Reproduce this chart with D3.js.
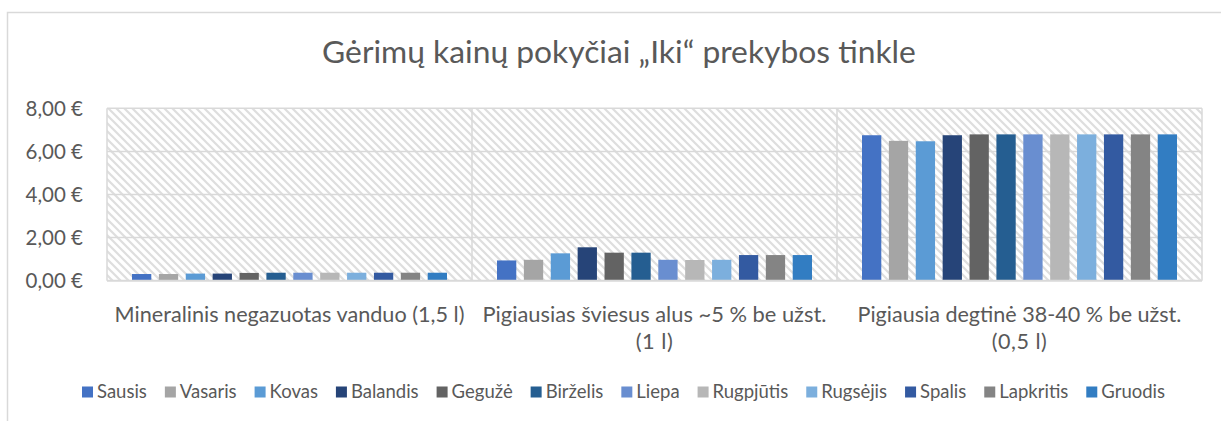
<!DOCTYPE html>
<html>
<head>
<meta charset="utf-8">
<script src="https://cdn.jsdelivr.net/npm/d3@7"></script>
<style>
  html, body { margin: 0; padding: 0; background: #fff; }
  svg { display: block; }
  text { font-family: Lato, "Open Sans", sans-serif; fill: #595959; }
</style>
</head>
<body>
<svg id="chart" width="1221" height="421"></svg>
<script>
// ---- data ----
const title = "Gėrimų kainų pokyčiai „Iki“ prekybos tinkle";
const categories = [
  ["Mineralinis negazuotas vanduo (1,5 l)"],
  ["Pigiausias šviesus alus ~5 % be užst.", "(1 l)"],
  ["Pigiausia degtinė 38-40 % be užst.", "(0,5 l)"]
];
const months = ["Sausis","Vasaris","Kovas","Balandis","Gegužė","Birželis","Liepa","Rugpjūtis","Rugsėjis","Spalis","Lapkritis","Gruodis"];
const waterPrices = [0.31, 0.31, 0.33, 0.33, 0.36, 0.37, 0.37, 0.37, 0.37, 0.37, 0.37, 0.37];
const beerPrices  = [0.94, 0.97, 1.27, 1.55, 1.30, 1.30, 0.97, 0.96, 0.97, 1.19, 1.19, 1.19];
const vodkaPrices = [6.75, 6.49, 6.47, 6.75, 6.79, 6.79, 6.79, 6.79, 6.79, 6.79, 6.79, 6.79];
const yTicks = [0, 2, 4, 6, 8];
const colors = ["#4472C4","#A5A5A5","#5B9BD5","#264478","#636363","#255E91","#698ED0","#B7B7B7","#7CAFDD","#335AA1","#848484","#327DC2"];

const seriesByCategory = [waterPrices, beerPrices, vodkaPrices];

// ---- layout ----
const svg = d3.select("#chart");
const plot = { left: 107, right: 1202, top: 108.3, bottom: 280.7 };
const grid = "#d9d9d9";

function fitText(sel, target) {
  const node = sel.node();
  const fs = parseFloat(sel.attr("font-size"));
  const w = node.getComputedTextLength();
  sel.attr("font-size", (fs * target / w).toFixed(2));
}

// chart border
svg.append("rect").attr("x", 7.5).attr("y", 12.5).attr("width", 1300).attr("height", 500)
  .attr("fill", "#fff").attr("stroke", grid).attr("stroke-width", 1.5);

// hatch pattern
const defs = svg.append("defs");
const pat = defs.append("pattern").attr("id", "hatch").attr("patternUnits", "userSpaceOnUse")
  .attr("width", 8).attr("height", 8);
pat.append("rect").attr("width", 8).attr("height", 8).attr("fill", "#fff");
pat.append("path").attr("d", "M-2,-2 L10,10 M-2,6 L2,10 M6,-2 L10,2")
  .attr("stroke", "#dedede").attr("stroke-width", 2.2);

// scales
const x0 = d3.scaleBand().domain(d3.range(categories.length)).range([plot.left, plot.right]).padding(0);
const x1 = d3.scaleBand().domain(d3.range(months.length)).range([25, x0.bandwidth() - 25]).paddingInner(0.2825).paddingOuter(0);
const y = d3.scaleLinear().domain([0, 8]).range([plot.bottom, plot.top]);

// plot area background
svg.append("rect").attr("x", plot.left).attr("y", plot.top)
  .attr("width", plot.right - plot.left).attr("height", plot.bottom - plot.top)
  .attr("fill", "url(#hatch)");

// horizontal gridlines
svg.append("g").selectAll("line").data(yTicks.filter(d => d > 0)).join("line")
  .attr("x1", plot.left).attr("x2", plot.right)
  .attr("y1", d => y(d)).attr("y2", d => y(d))
  .attr("stroke", grid).attr("stroke-width", 1.5);

// vertical category separators + borders
const vLines = d3.range(categories.length + 1).map(i => i < categories.length ? x0(i) : plot.right);
svg.append("g").selectAll("line").data(vLines).join("line")
  .attr("x1", d => d).attr("x2", d => d).attr("y1", plot.top).attr("y2", plot.bottom)
  .attr("stroke", grid).attr("stroke-width", 1.5);

// bars
const gCat = svg.append("g").selectAll("g").data(seriesByCategory).join("g")
  .attr("transform", (d, i) => `translate(${x0(i)},0)`);
gCat.selectAll("rect").data(d => d).join("rect")
  .attr("x", (d, i) => x1(i)).attr("width", x1.bandwidth())
  .attr("y", d => y(d)).attr("height", d => y(0) - y(d))
  .attr("fill", (d, i) => colors[i]);

// x axis line
svg.append("line").attr("x1", plot.left).attr("x2", plot.right)
  .attr("y1", plot.bottom).attr("y2", plot.bottom).attr("stroke", grid).attr("stroke-width", 2);

// y axis labels
const yAxis = d3.axisLeft(y).tickValues(yTicks).tickSize(0).tickPadding(0)
  .tickFormat(d => d3.format(".2f")(d).replace(".", ",") + " €");
const yG = svg.append("g").attr("transform", "translate(83,0)").call(yAxis);
yG.select(".domain").remove();
yG.selectAll("text").attr("font-size", 20.5).attr("font-family", "Lato, 'Open Sans', sans-serif")
  .attr("fill", "#595959").attr("dy", "0.35em");

// category labels
const targets = [350, 344, 324];
categories.forEach((lines, i) => {
  const first = svg.append("text").attr("x", x0(i) + x0.bandwidth() / 2).attr("y", 322)
    .attr("text-anchor", "middle").attr("font-size", 17).text(lines[0]);
  fitText(first, targets[i]);
  lines.slice(1).forEach((ln, j) => {
    svg.append("text").attr("x", x0(i) + x0.bandwidth() / 2).attr("y", 349 + j * 27)
      .attr("text-anchor", "middle").attr("font-size", first.attr("font-size"))
      .attr("letter-spacing", 0.5).text(ln);
  });
});

// title
const tt = svg.append("text").attr("x", 619).attr("y", 63).attr("text-anchor", "middle")
  .attr("font-size", 26).attr("fill", "#666").text(title);
fitText(tt, 594);

// legend
const legG = svg.append("g");
const legFs = 18.5;
const items = legG.selectAll("g").data(months).join("g");
items.append("rect").attr("width", 11).attr("height", 11).attr("y", -5.5).attr("fill", (d, i) => colors[i]);
items.append("text").attr("x", 15).attr("dy", "0.35em").attr("font-size", legFs).text(d => d);
const widths = [];
items.each(function(){ widths.push(15 + d3.select(this).select("text").node().getComputedTextLength()); });
const span = 1165 - 82;
const gap = (span - d3.sum(widths)) / (months.length - 1);
let cx = 82;
items.attr("transform", (d, i) => { const tx = cx; cx += widths[i] + gap; return `translate(${tx},392)`; });
</script>
</body>
</html>
